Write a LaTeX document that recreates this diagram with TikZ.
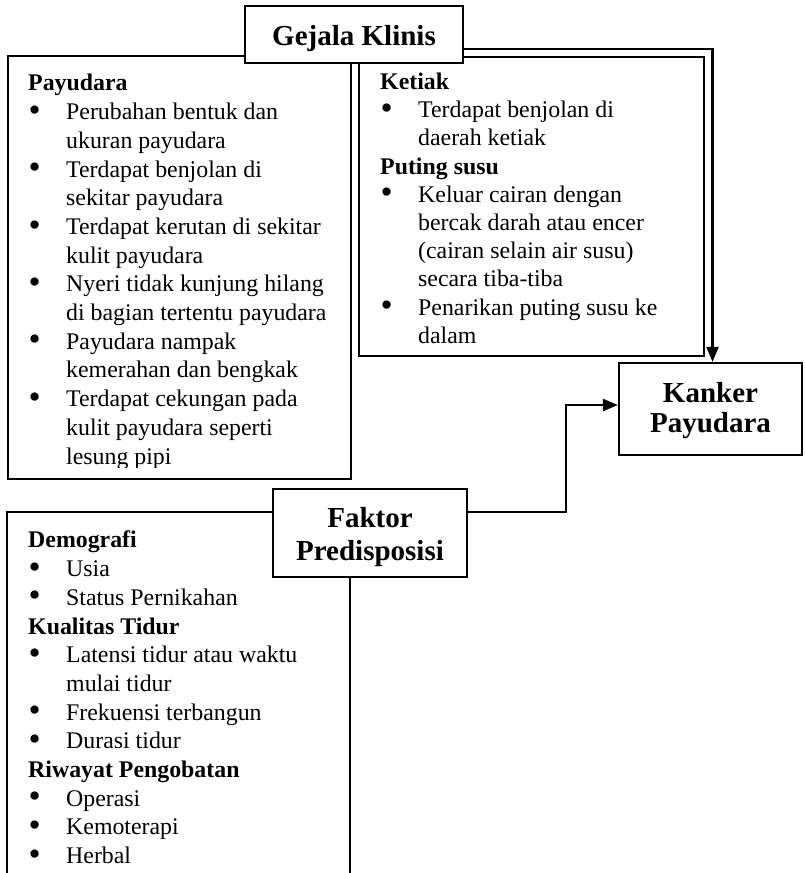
\documentclass[tikz,border=0pt]{standalone}
\usepackage{fontspec}
\usepackage{graphicx}
\setmainfont{Liberation Serif}
\usetikzlibrary{arrows.meta}

% body text of the lists
\newcommand{\bodysize}{\fontsize{23.85pt}{28.7pt}\selectfont}
\newcommand{\natspace}{\spaceskip=0pt\xspaceskip=0pt}
\newcommand{\bigbullet}{\raisebox{-0.07em}{\scalebox{1.45}{\textbullet}}}
\newcommand{\listhead}[1]{\par\natspace\noindent\textbf{#1}\par}
\newcommand{\listitem}[1]{\par\natspace\noindent\hangindent=38pt\hangafter=1\makebox[38pt][l]{\hspace{0.5pt}\bigbullet}#1\par}
\newcommand{\firstline}{\rule{0pt}{20pt}}

\tikzset{
  frame/.style={draw, line width=2.2pt, rectangle, anchor=north west, inner sep=0pt},
  listtext/.style={anchor=north west, inner sep=0pt, text width=#1, align=left, font=\bodysize},
  titlebox/.style={draw, line width=2.2pt, fill=white, rectangle, inner sep=0pt, align=center,
                   font=\fontsize{29pt}{33pt}\selectfont\bfseries},
  link/.style={line width=2.2pt, -{Triangle[length=15pt,width=12pt]}},
}

\begin{document}
\begin{tikzpicture}[x=1pt, y=-1pt]
\useasboundingbox (0,0) rectangle (804,873);

% frames of the three lists
\node[frame, minimum width=343pt, minimum height=423pt] (payframe) at (7,55) {};
\node[frame, minimum width=345pt, minimum height=299pt] (ketframe) at (358,56) {};
\draw[line width=2.2pt] (7,885) -- (7,512) -- (350,512) -- (350,885);

% breast symptoms (text cut by the box)
\begin{scope}
  \clip (7,55) rectangle (350,467);
  \node[listtext=330pt] (paytext) at (28,62) {%
    \listhead{\firstline Payudara}
    \listitem{Perubahan bentuk dan\newline ukuran payudara}
    \listitem{Terdapat benjolan di\newline sekitar payudara}
    \listitem{Terdapat kerutan di sekitar\newline kulit payudara}
    \listitem{Nyeri tidak kunjung hilang\newline di bagian tertentu payudara}
    \listitem{Payudara nampak\newline kemerahan dan bengkak}
    \listitem{Terdapat cekungan pada\newline kulit payudara seperti\newline lesung pipi}};
\end{scope}

% armpit and nipple symptoms
\node[listtext=320pt, font={\fontsize{23.85pt}{28.2pt}\selectfont}] (kettext) at (380,61) {%
  \listhead{\firstline Ketiak}
  \listitem{Terdapat benjolan di\newline daerah ketiak}
  \listhead{Puting susu}
  \listitem{Keluar cairan dengan\newline bercak darah atau encer\newline (cairan selain air susu)\newline secara tiba-tiba}
  \listitem{Penarikan puting susu ke\newline dalam}};

% predisposing factors
\node[listtext=320pt] (faktext) at (28,519) {%
  \listhead{\firstline Demografi}
  \listitem{Usia}
  \listitem{Status Pernikahan}
  \listhead{Kualitas Tidur}
  \listitem{Latensi tidur atau waktu\newline mulai tidur}
  \listitem{Frekuensi terbangun}
  \listitem{Durasi tidur}
  \listhead{Riwayat Pengobatan}
  \listitem{Operasi}
  \listitem{Kemoterapi}
  \listitem{Herbal}};

% title boxes
\node[titlebox, minimum width=218pt, minimum height=57pt, text height=28pt, text depth=6.3pt]
  (gejala) at (354,34.5) {Gejala Klinis};
\node[titlebox, minimum width=194pt, minimum height=88pt]
  (faktor) at (370,533) {\rule{0pt}{29pt}Faktor\\Predisposisi};
\node[titlebox, minimum width=183pt, minimum height=92pt,
      font={\fontsize{29pt}{30pt}\selectfont\bfseries}]
  (kanker) at (710.5,409) {\rule{0pt}{23pt}Kanker\\Payudara};

% connectors
\draw[link] ([yshift=-14.5pt]gejala.east) -| ([xshift=2pt]kanker.north);
\draw[link] ([yshift=21pt]faktor.east) -- ++(98,0) |- ([yshift=4pt]kanker.west);
\end{tikzpicture}
\end{document}
